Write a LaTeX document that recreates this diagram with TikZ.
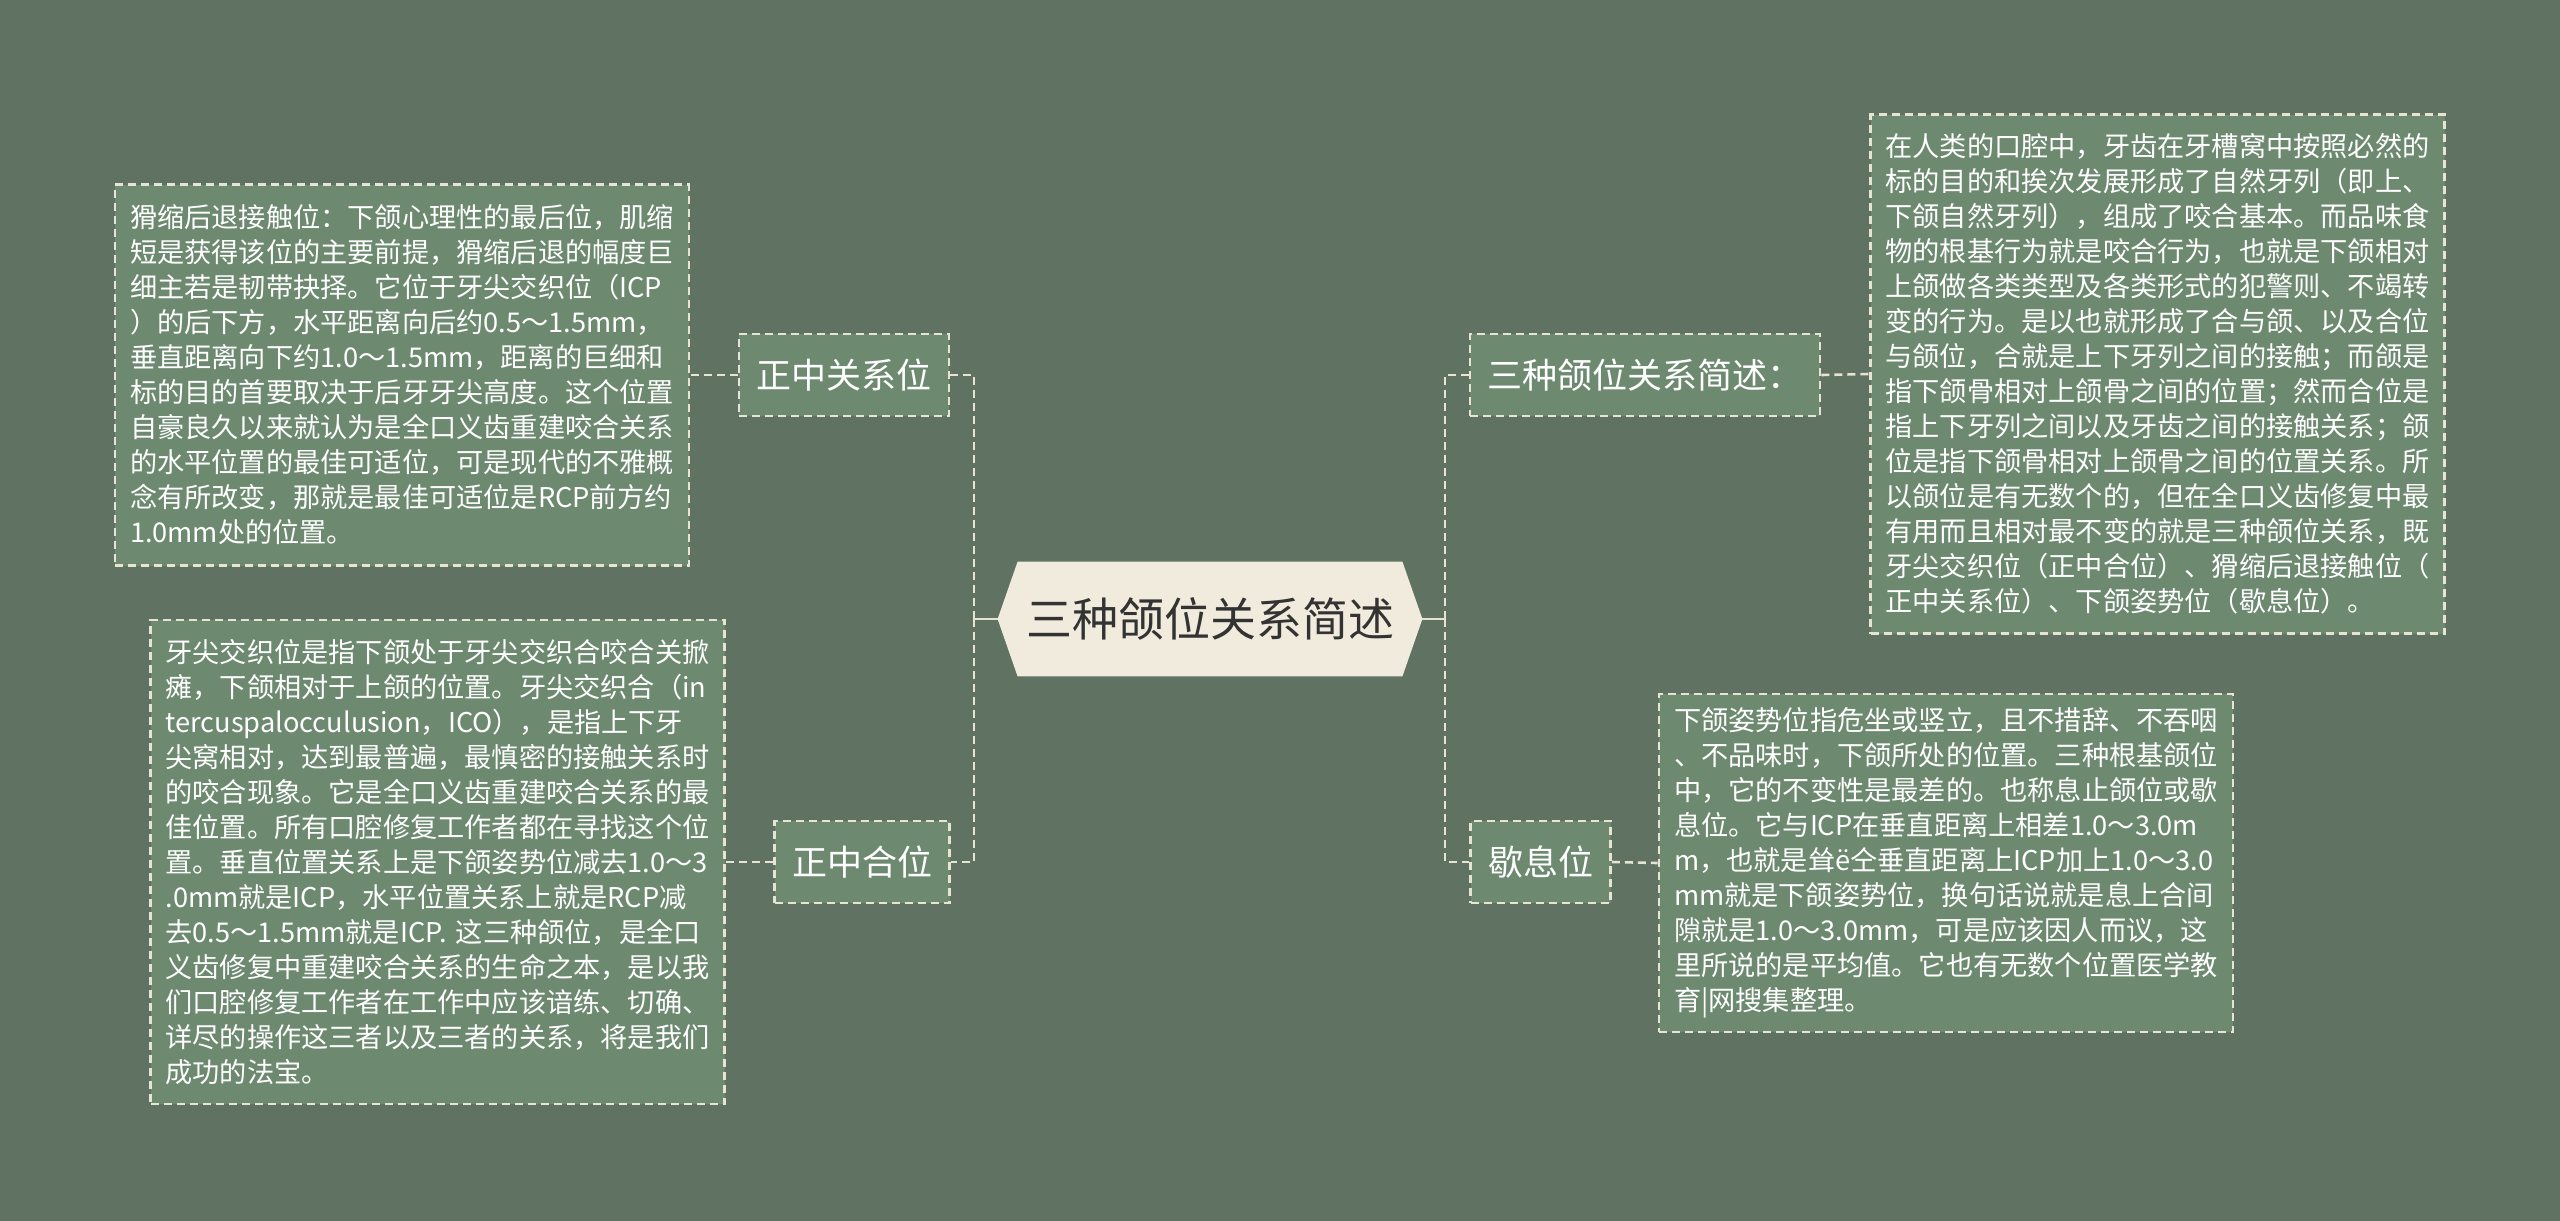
\documentclass[tikz,border=0pt]{standalone}
\usepackage{fontspec}
\setmainfont{Noto Sans CJK SC}
\newfontfamily\cjk{Noto Sans CJK SC}
\pgfdeclarelayer{bg}
\pgfsetlayers{bg,main}
\definecolor{bgc}{RGB}{96,114,98}
\definecolor{boxfill}{RGB}{109,138,113}
\definecolor{dashc}{RGB}{232,228,212}
\definecolor{hexfill}{RGB}{240,235,220}
\definecolor{hextext}{RGB}{51,51,51}
\tikzset{
  dashedborder/.style={draw=dashc, line width=1.3pt, dash pattern=on 4pt off 2.5pt},
  txtbox/.style={dashedborder, fill=boxfill, text=white, align=left, text width=272pt,
    inner xsep=7.5pt, inner ysep=0pt, font=\cjk\fontsize{13.6pt}{17.5pt}\selectfont},
  childbox/.style={dashedborder, fill=boxfill, text=white, inner xsep=8.75pt, inner ysep=0pt,
    minimum height=41pt, font=\cjk\fontsize{17.5pt}{20pt}\selectfont},
  hexnode/.style={inner sep=0pt, minimum width=212pt, minimum height=57pt, text=hextext,
    font=\cjk\fontsize{23pt}{26pt}\selectfont},
  conn/.style={draw=dashc, line width=1.3pt, dash pattern=on 4pt off 2.5pt},
  solidconn/.style={draw=dashc, line width=1.3pt},
}
\begin{document}
\begin{tikzpicture}[x=0.5pt, y=-0.5pt]
\begin{pgfonlayer}{bg}
\fill[bgc] (0,0) rectangle (2560,1221);
\end{pgfonlayer}
\useasboundingbox (0,0) rectangle (2560,1221);

% central node
\node[hexnode] (hex) at (1210,619) {三种颌位关系简述};
\begin{pgfonlayer}{bg}
\fill[hexfill] (hex.west) -- ([xshift=10pt]hex.north west) -- ([xshift=-10pt]hex.north east)
  -- (hex.east) -- ([xshift=-10pt]hex.south east) -- ([xshift=10pt]hex.south west) -- cycle;
\end{pgfonlayer}

% children
\node[childbox] (c1) at (844,375) {正中关系位};
\node[childbox] (c2) at (862,862) {正中合位};
\node[childbox] (c3) at (1645,375) {三种颌位关系简述：};
\node[childbox] (c4) at (1540.5,862) {歇息位};

% text boxes
\node[txtbox, minimum width=287pt, minimum height=190.5pt] (t1) at (402,375) {%
猾缩后退接触位：下颌心理性的最后位，肌缩\\
短是获得该位的主要前提，猾缩后退的幅度巨\\
细主若是韧带抉择。它位于牙尖交织位（ICP\\
）的后下方，水平距离向后约0.5～1.5mm，\\
垂直距离向下约1.0～1.5mm，距离的巨细和\\
标的目的首要取决于后牙牙尖高度。这个位置\\
自豪良久以来就认为是全口义齿重建咬合关系\\
的水平位置的最佳可适位，可是现代的不雅概\\
念有所改变，那就是最佳可适位是RCP前方约\\
1.0mm处的位置。};

\node[txtbox, minimum width=285.5pt, minimum height=242pt] (t2) at (437.5,862) {%
牙尖交织位是指下颌处于牙尖交织合咬合关掀\\
瘫，下颌相对于上颌的位置。牙尖交织合（in\\
tercuspalocculusion，ICO），是指上下牙\\
尖窝相对，达到最普遍，最慎密的接触关系时\\
的咬合现象。它是全口义齿重建咬合关系的最\\
佳位置。所有口腔修复工作者都在寻找这个位\\
置。垂直位置关系上是下颌姿势位减去1.0～3\\
.0mm就是ICP，水平位置关系上就是RCP减\\
去0.5～1.5mm就是ICP.~这三种颌位，是全口\\
义齿修复中重建咬合关系的生命之本，是以我\\
们口腔修复工作者在工作中应该谙练、切确、\\
详尽的操作这三者以及三者的关系，将是我们\\
成功的法宝。};

\node[txtbox, minimum width=286.5pt, minimum height=259.5pt] (t3) at (2157.5,374) {%
在人类的口腔中，牙齿在牙槽窝中按照必然的\\
标的目的和挨次发展形成了自然牙列（即上、\\
下颌自然牙列），组成了咬合基本。而品味食\\
物的根基行为就是咬合行为，也就是下颌相对\\
上颌做各类类型及各类形式的犯警则、不竭转\\
变的行为。是以也就形成了合与颌、以及合位\\
与颌位，合就是上下牙列之间的接触；而颌是\\
指下颌骨相对上颌骨之间的位置；然而合位是\\
指上下牙列之间以及牙齿之间的接触关系；颌\\
位是指下颌骨相对上颌骨之间的位置关系。所\\
以颌位是有无数个的，但在全口义齿修复中最\\
有用而且相对最不变的就是三种颌位关系，既\\
牙尖交织位（正中合位）、猾缩后退接触位（\\
正中关系位）、下颌姿势位（歇息位）。};

\node[txtbox, minimum width=286pt, minimum height=169pt] (t4) at (1946,863) {%
下颌姿势位指危坐或竖立，且不措辞、不吞咽\\
、不品味时，下颌所处的位置。三种根基颌位\\
中，它的不变性是最差的。也称息止颌位或歇\\
息位。它与ICP在垂直距离上相差1.0～3.0m\\
m，也就是耸ë仝垂直距离上ICP加上1.0～3.0\\
mm就是下颌姿势位，换句话说就是息上合间\\
隙就是1.0～3.0mm，可是应该因人而议，这\\
里所说的是平均值。它也有无数个位置医学教\\
育|网搜集整理。};

% connectors
\coordinate (ls) at (974,619);
\coordinate (rs) at (1445,619);
\draw[solidconn] (hex.west) -- (ls);
\draw[solidconn] (hex.east) -- (rs);
\draw[conn] (ls) |- (c1.east);
\draw[conn] (ls) |- (c2.east);
\draw[conn] (rs) |- (c3.west);
\draw[conn] (rs) |- (c4.west);
\draw[conn] (c1.west) -- (t1.east);
\draw[conn] (c2.west) -- (t2.east);
\draw[conn] (c3.east) -- (t3.west);
\draw[conn] (c4.east) -- (t4.west);
\end{tikzpicture}
\end{document}
